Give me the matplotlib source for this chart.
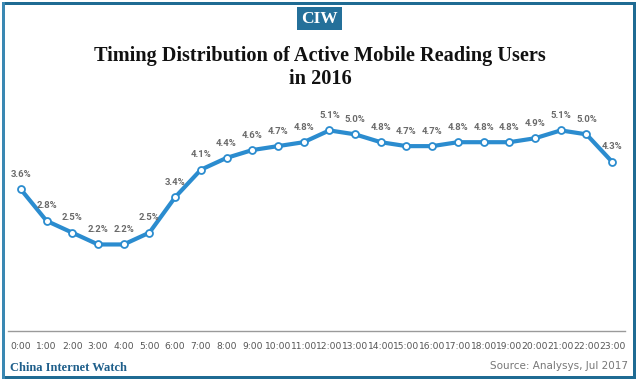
import matplotlib
matplotlib.use("Agg")
import matplotlib.pyplot as plt
from matplotlib.patches import Rectangle

hours = [f"{h}:00" for h in range(24)]
values = [3.6, 2.8, 2.5, 2.2, 2.2, 2.5, 3.4, 4.1, 4.4, 4.6, 4.7, 4.8,
          5.1, 5.0, 4.8, 4.7, 4.7, 4.8, 4.8, 4.8, 4.9, 5.1, 5.0, 4.3]
title = "Timing Distribution of Active Mobile Reading Users\nin 2016"

W, H = 640, 382
fig = plt.figure(figsize=(W / 100, H / 100), dpi=100)
fig.patch.set_facecolor("white")

def px(x0, y0, w, h, color, z=1):
    fig.patches.append(Rectangle((x0 / W, 1 - (y0 + h) / H), w / W, h / H,
                                 transform=fig.transFigure, color=color,
                                 zorder=z, linewidth=0))

border = "#1f6b93"
px(2, 2, 634, 3, border)          # top
px(2, 376, 634, 3, border)        # bottom
px(2, 2, 3, 377, "#3a88b3")       # left
px(633, 2, 3, 377, border)        # right
# CIW badge
px(297, 7, 45, 23, "#24709a")
fig.text(319.5 / W, 1 - 19 / H, "CIW", color="white", fontsize=12.5,
         fontweight="bold", family="Liberation Serif", ha="center", va="center",
         zorder=10)

fig.text(320 / W, 1 - 67 / H, title, fontsize=14.6, fontweight="bold",
         family="Liberation Serif", ha="center", va="center", linespacing=1.2,
         color="#111111", zorder=10)

ax = fig.add_axes([8 / W, 1 - 331 / H, (625 - 8) / W, (331 - 95) / H])
x = list(range(len(values)))
ax.plot(x, values, color="#2b8ccf", linewidth=3, marker="o", markersize=5,
        markerfacecolor="white", markeredgecolor="#2b8ccf", markeredgewidth=1.3,
        zorder=3, solid_joinstyle="round")
for xi, v in zip(x, values):
    ax.annotate(f"{v:.1f}%", (xi, v), xytext=(0, 7.5), textcoords="offset points",
                ha="center", va="bottom", fontsize=6.8, color="#6a6a6a",
                fontweight="bold", family="Roboto")

ax.set_xlim(-0.5, len(values) - 0.5)
ax.set_ylim(0, 6)
ax.set_xticks(x)
ax.set_xticklabels(hours, fontsize=6.6, color="#555555")
ax.tick_params(axis="x", length=0, pad=8)
ax.set_yticks([])
for s in ["top", "right", "left"]:
    ax.spines[s].set_visible(False)
ax.spines["bottom"].set_color("#9a9a9a")
ax.spines["bottom"].set_linewidth(1)
ax.set_facecolor("none")

fig.text(10 / W, 1 - 368 / H, "China Internet Watch", fontsize=9,
         fontweight="bold", family="Liberation Serif", color="#1f5f8b",
         ha="left", va="center", zorder=10)
fig.text(628 / W, 1 - 366 / H, "Source: Analysys, Jul 2017", fontsize=7.5,
         color="#777777", ha="right", va="center", zorder=10)

fig.savefig("out.png", dpi=100, facecolor="white")
